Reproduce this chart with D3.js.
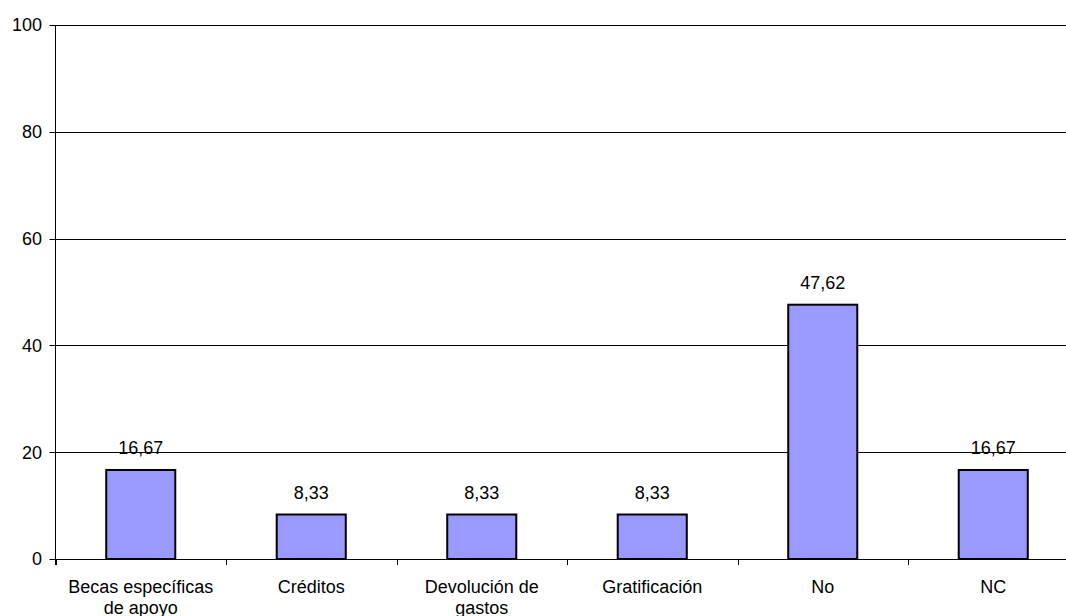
<!DOCTYPE html>
<html><head><meta charset="utf-8">
<script src="https://cdn.jsdelivr.net/npm/d3@7"></script>
<style>body{margin:0;background:#fff}svg{display:block}text{font-family:"Liberation Sans",Arial,sans-serif}</style>
</head><body>
<svg id="c" width="1066" height="616"></svg>
<script>
const categories = [["Becas específicas","de apoyo"],["Créditos"],["Devolución de","gastos"],["Gratificación"],["No"],["NC"]];
const values = [16.67, 8.33, 8.33, 8.33, 47.62, 16.67];
const labels = ["16,67","8,33","8,33","8,33","47,62","16,67"];
const yTicks = [0,20,40,60,80,100];

const svg = d3.select("#c");
const pLeft = 55.5, bandW = 170.5, pTop = 25, pBottom = 559;
const x = d3.scaleBand().domain(d3.range(categories.length)).range([pLeft, pLeft + bandW*categories.length]).paddingInner(0.595).paddingOuter(0.2975);
const y = d3.scaleLinear().domain([0,100]).range([pBottom, pTop]);
const fs = 18;

// gridlines
svg.append("g").selectAll("line").data(yTicks.filter(d=>d>0)).join("line")
  .attr("x1", pLeft).attr("x2", 1066).attr("y1", d=>Math.round(y(d))+0.5).attr("y2", d=>Math.round(y(d))+0.5)
  .attr("stroke","#000").attr("stroke-width",1);

// y axis
const yg = svg.append("g");
yg.append("line").attr("x1",pLeft).attr("x2",pLeft).attr("y1",pTop).attr("y2",pBottom+6).attr("stroke","#000");
yg.selectAll("line.t").data(yTicks).join("line").attr("class","t")
  .attr("x1",pLeft-6).attr("x2",pLeft).attr("y1",d=>Math.round(y(d))+0.5).attr("y2",d=>Math.round(y(d))+0.5).attr("stroke","#000");
yg.selectAll("text").data(yTicks).join("text")
  .attr("x",42).attr("y",d=>y(d)).attr("dy","0.36em").attr("text-anchor","end")
  .attr("font-size",fs).attr("fill","#000").text(d=>d);

// x axis
svg.append("line").attr("x1",pLeft).attr("x2",1066).attr("y1",pBottom+0.5).attr("y2",pBottom+0.5).attr("stroke","#000");
svg.append("g").selectAll("line").data(d3.range(categories.length+1)).join("line")
  .attr("x1",d=>Math.round(pLeft+d*bandW)+0.5).attr("x2",d=>Math.round(pLeft+d*bandW)+0.5)
  .attr("y1",pBottom).attr("y2",pBottom+6).attr("stroke","#000");

// bars
svg.append("g").selectAll("rect").data(values).join("rect")
  .attr("x",(d,i)=>x(i)).attr("width",x.bandwidth())
  .attr("y",d=>y(d)).attr("height",d=>pBottom-y(d))
  .attr("fill","#9999FF").attr("stroke","#000").attr("stroke-width",2);

// value labels
svg.append("g").selectAll("text").data(values).join("text")
  .attr("x",(d,i)=>x(i)+x.bandwidth()/2).attr("y",d=>y(d)-16)
  .attr("text-anchor","middle").attr("font-size",fs).attr("fill","#000")
  .text((d,i)=>labels[i]);

// category labels
const cg = svg.append("g").selectAll("text").data(categories).join("text")
  .attr("x",(d,i)=>x(i)+x.bandwidth()/2).attr("y",593)
  .attr("text-anchor","middle").attr("font-size",fs).attr("fill","#000");
cg.each(function(d){
  const t = d3.select(this);
  d.forEach((line,j)=>t.append("tspan").attr("x",t.attr("x")).attr("dy",j?21:0).text(line));
});
</script>
</body></html>
